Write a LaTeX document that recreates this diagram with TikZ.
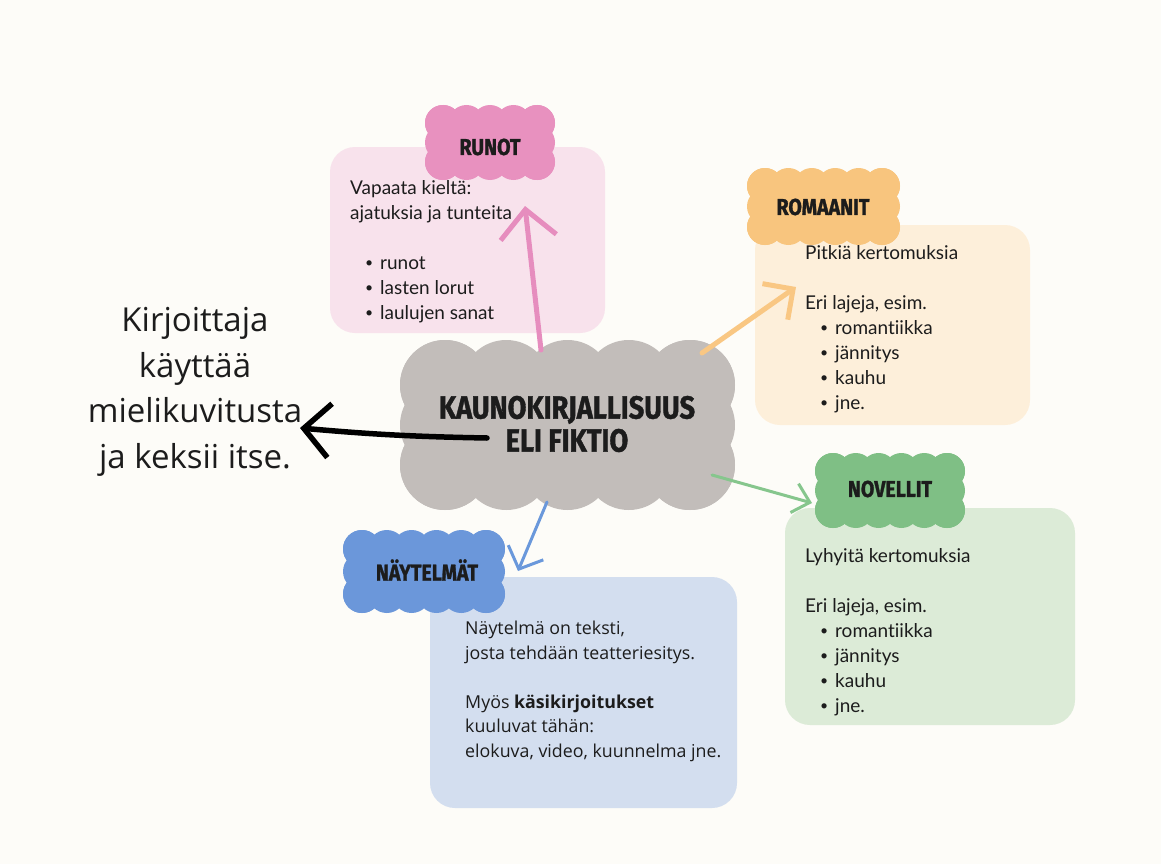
\documentclass[tikz,border=0pt]{standalone}
\usepackage{fontspec}
\setmainfont[Ligatures=CommonOff]{Lato}
\newfontfamily\opensans{Open Sans}
\newfontfamily\titlefont[FakeStretch=0.85,FakeBold=1.2]{Fira Sans}
\usetikzlibrary{arrows.meta}

\definecolor{bgcol}{HTML}{FDFCF8}
\definecolor{pinkpuff}{HTML}{E891BF}
\definecolor{pinkbox}{HTML}{F8E2EC}
\definecolor{pinkarr}{HTML}{E68DBE}
\definecolor{orpuff}{HTML}{F8C57E}
\definecolor{orbox}{HTML}{FDEFDA}
\definecolor{orarr}{HTML}{F9C783}
\definecolor{grpuff}{HTML}{7FBF85}
\definecolor{grbox}{HTML}{DCEBD7}
\definecolor{grarr}{HTML}{86C68D}
\definecolor{blpuff}{HTML}{6B97DA}
\definecolor{blbox}{HTML}{D3DEEF}
\definecolor{blarr}{HTML}{6A98DB}
\definecolor{greypuff}{HTML}{C2BDBA}
\definecolor{ink}{HTML}{1C1C1C}

% scalloped cloud: cx cy half-w half-h nx ny r colour
\newcommand\puffs[8]{%
  \fill[#8] ({#1-#3},{#2-#4}) rectangle ({#1+#3},{#2+#4});
  \foreach \i in {0,...,#5}{
    \fill[#8] ({#1-#3+2*#3*\i/#5},{#2-#4}) circle[radius=#7];
    \fill[#8] ({#1-#3+2*#3*\i/#5},{#2+#4}) circle[radius=#7];}
  \foreach \j in {0,...,#6}{
    \fill[#8] ({#1-#3},{#2-#4+2*#4*\j/#6}) circle[radius=#7];
    \fill[#8] ({#1+#3},{#2-#4+2*#4*\j/#6}) circle[radius=#7];}
}
\newcommand\itm[1]{\hspace*{15pt}\makebox[15pt][l]{\raisebox{1.5pt}{\fontsize{14}{14}\selectfont •}}#1}

\tikzset{
  infobox/.style={rounded corners=25pt, inner sep=0pt, minimum width=#1},
  boxtext/.style={anchor=north west, align=left, inner sep=0pt, text=ink,
    font=\fontsize{19}{25}\selectfont},
  title/.style={text=ink, inner sep=0pt, font=\titlefont\bfseries\fontsize{23}{23}\selectfont},
  barb/.style={line width=#1, line cap=round},
}

\begin{document}
\begin{tikzpicture}[x=1pt,y=-1pt]
\useasboundingbox (0,0) rectangle (1161,864);
\fill[bgcol] (0,0) rectangle (1161,864);

% boxes
\node[infobox=275pt, minimum height=186pt, fill=pinkbox] (runotbox) at (467.5,240) {};
\node[infobox=275pt, minimum height=200pt, fill=orbox] (romaanitbox) at (892.5,325) {};
\node[infobox=290pt, minimum height=217pt, fill=grbox] (novellitbox) at (930,616.5) {};
\node[infobox=307pt, minimum height=231pt, fill=blbox] (naytelmatbox) at (583.5,692.5) {};

\node[boxtext] (runottext) at (350,180) {Vapaata kieltä:\\ ajatuksia ja tunteita\\[25pt]
  \itm{runot}\\ \itm{lasten lorut}\\ \itm{laulujen sanat}};
\node[boxtext] (romaanittext) at (805,245) {Pitkiä kertomuksia\\[25pt] Eri lajeja, esim.\\
  \itm{romantiikka}\\ \itm{jännitys}\\ \itm{kauhu}\\ \itm{jne.}};
\node[boxtext] (novellittext) at (805,548) {Lyhyitä kertomuksia\\[25pt] Eri lajeja, esim.\\
  \itm{romantiikka}\\ \itm{jännitys}\\ \itm{kauhu}\\ \itm{jne.}};
\node[boxtext, font=\opensans\fontsize{17.8}{24.5}\selectfont] (naytelmattext) at (465,621)
  {Näytelmä on teksti,\\ josta tehdään teatteriesitys.\\[24.5pt]
   Myös \textbf{käsikirjoitukset}\\ kuuluvat tähän:\\ elokuva, video, kuunnelma jne.};

% centre
\puffs{567.5}{425}{122.5}{40}{4}{2}{45}{greypuff}
\node[title, align=center, font=\titlefont\bfseries\fontsize{32}{33}\selectfont] (fiktio) at (567,424)
  {KAUNOKIRJALLISUUS\\ ELI FIKTIO};

\node[align=center, text=ink, font=\opensans\fontsize{33}{45.5}\selectfont] (kirjoittaja) at (195,392)
  {Kirjoittaja\\ käyttää\\ mielikuvitusta\\ ja keksii itse.};

% arrows
\coordinate (pinkS) at (541,350);
\coordinate (pinkE) at (525,206);
\coordinate (orS) at (702,353);
\coordinate (orE) at (796,287);
\coordinate (grS) at (712,475);
\coordinate (grE) at (812,503);
\coordinate (blS) at (547,502);
\coordinate (blE) at (518,571);
\coordinate (blackS) at (487,438);
\coordinate (blackE) at (300,428);

\draw[barb=5pt, pinkarr, -{Straight Barb[length=28pt,width=56pt]}] (pinkS) -- (pinkE);
\draw[barb=5pt, orarr, -{Straight Barb[length=22pt,width=44pt]}] (orS) -- (orE);
\draw[barb=3pt, grarr, -{Straight Barb[length=16pt,width=30pt]}] (grS) -- (grE);
\draw[barb=3pt, blarr, -{Straight Barb[length=18pt,width=38pt]}] (blS) -- (blE);
\draw[barb=5.5pt, black, -{Straight Barb[length=26pt,width=54pt]}] (blackS) to[bend left=2] (blackE);

% title clouds
\puffs{490}{142.5}{47}{19.5}{4}{2}{18}{pinkpuff}
\node[title] (runot) at (490,147) {RUNOT};
\puffs{823.5}{206.5}{58.5}{20.5}{5}{2}{18}{orpuff}
\node[title] (romaanit) at (823,207) {ROMAANIT};
\puffs{890}{490.5}{57}{19.5}{5}{2}{18}{grpuff}
\node[title] (novellit) at (890,489) {NOVELLIT};
\puffs{424}{571.5}{62}{22.5}{5}{2}{19}{blpuff}
\node[title] (naytelmat) at (427,570) {NÄYTELMÄT};
\end{tikzpicture}
\end{document}
